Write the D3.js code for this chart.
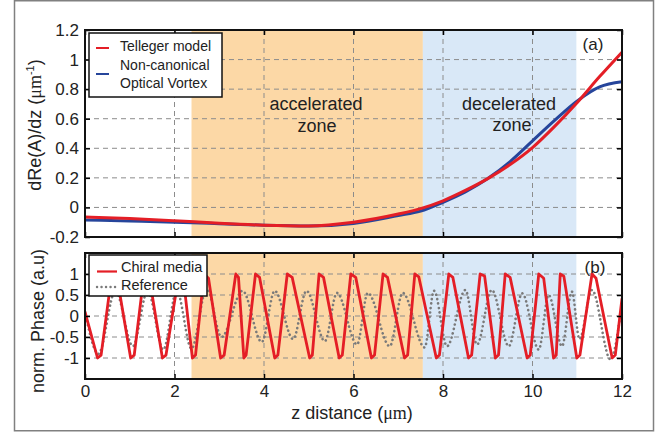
<!DOCTYPE html>
<html>
<head>
<meta charset="utf-8">
<script src="https://cdn.jsdelivr.net/npm/d3@7"></script>
<style>
  body { margin: 0; background: #fff; }
  text { font-family: "Liberation Sans", Arial, sans-serif; fill: #222; }
</style>
</head>
<body>
<div id="chart"></div>
<script>
// ---- data ----
const zTicks = [0, 2, 4, 6, 8, 10, 12];
const topTicks = [-0.2, 0, 0.2, 0.4, 0.6, 0.8, 1, 1.2];
const topTickLabels = ["-0.2", "0", "0.2", "0.4", "0.6", "0.8", "1", "1.2"];
const botTicks = [-1, -0.5, 0, 0.5, 1];
const botTickLabels = ["-1", "-0.5", "0", "0.5", "1"];

const accelZone = [2.38, 7.55];
const decelZone = [7.55, 10.98];

// panel (a)
const topZ      = [0, 1, 2, 3, 4, 5, 6, 7, 7.5, 8, 8.5, 9, 9.5, 10, 10.5, 11, 11.5, 12];
const telleger  = [-0.065, -0.075, -0.09, -0.107, -0.12, -0.125, -0.1, -0.045, -0.008, 0.045, 0.115, 0.195, 0.29, 0.405, 0.55, 0.71, 0.885, 1.05];
const vortex    = [-0.085, -0.092, -0.1, -0.11, -0.12, -0.125, -0.108, -0.055, -0.025, 0.035, 0.105, 0.195, 0.31, 0.45, 0.59, 0.72, 0.815, 0.85];

// panel (b)
const chiralZ = [0, 0.28, 0.36, 0.6, 0.72, 1.02, 1.1, 1.32, 1.44, 1.73, 1.81, 2.1, 2.2, 2.4, 2.47,
  2.66, 2.76, 3.03, 3.11, 3.37, 3.43, 3.55, 3.6, 3.81, 3.9, 4.24, 4.31, 4.52, 4.63, 5.02, 5.08,
  5.23, 5.33, 5.68, 5.75, 5.94, 6.05, 6.4, 6.47, 6.66, 6.76, 7.14, 7.21, 7.37, 7.46, 7.85, 7.92,
  8.13, 8.22, 8.57, 8.64, 8.83, 8.93, 9.17, 9.24, 9.39, 9.5, 9.88, 9.95, 10.14, 10.25, 10.47, 10.53,
  10.62, 10.7, 10.99, 11.06, 11.33, 11.42, 11.78, 11.85, 12];
const chiralV = [0.1, -1, -0.93, 1, 0.9, -1, -0.93, 1, 0.9, -1, -0.93, 1, 0.88, -1, -0.93,
  1, 0.9, -1, -0.93, 1, 0.92, -1, -0.93, 1, 0.92, -1, -0.93, 1, 0.92, -1, -0.93,
  1, 0.92, -1, -0.93, 1, 0.92, -1, -0.93, 1, 0.92, -1, -0.93, 1, 0.93, -1, -0.93,
  1, 0.92, -1, -0.93, 1, 0.95, -1, -0.93, 1, 0.92, -1, -0.93, 1, 0.9, -1, -0.93,
  1, 0.95, -1, -0.93, 1, 0.9, -1, -0.93, 0.42];

const refZ = [0, 0.3, 0.68, 1.07, 1.4, 1.75, 2.05, 2.38, 2.72, 3.05, 3.52, 3.95, 4.24, 4.65, 4.95,
  5.36, 5.63, 6.08, 6.32, 6.81, 7.1, 7.59, 7.8, 8.09, 8.5, 8.76, 9.09, 9.47, 9.77, 10.14, 10.36,
  10.66, 10.88, 11.05, 11.33, 11.74, 12];
const refV = [0.1, -0.9, 0.6, -0.72, 0.6, -0.8, 0.6, -0.78, 0.65, -0.5, 0.6, -0.62, 0.6, -0.55, 0.6,
  -0.6, 0.55, -0.68, 0.55, -0.72, 0.55, -0.75, 0.6, -0.72, 0.62, -0.68, 0.62, -0.72, 0.54, -0.8, 0.5,
  -0.72, 0.58, -0.55, 0.62, -1.03, 0.3];

// ---- layout ----
const W = 668, H = 434;
const red = "#e41e26", blue = "#26459b", grey = "#7a7a7a";
const orange = "#fcd8a6", lightBlue = "#d9e8f7";

const svg = d3.select("#chart").append("svg")
  .attr("width", W).attr("height", H);

// outer figure frame
svg.append("rect")
  .attr("x", 14.5).attr("y", 0.75).attr("width", 639).attr("height", 430)
  .attr("fill", "none").attr("stroke", "#808080").attr("stroke-width", 1.5);

const x = d3.scaleLinear().domain([0, 12]).range([85, 622]);
const yTop = d3.scaleLinear().domain([-0.2, 1.2]).range([237, 30]);
const yBot = d3.scaleLinear().domain([-1.5, 1.5]).range([379, 253]);

function panel(y, ticks, id) {
  const [y0, y1] = y.range();
  const g = svg.append("g");

  // shaded zones
  [[accelZone, orange], [decelZone, lightBlue]].forEach(([z, c]) => {
    g.append("rect")
      .attr("x", x(z[0])).attr("y", y1)
      .attr("width", x(z[1]) - x(z[0])).attr("height", y0 - y1)
      .attr("fill", c);
  });

  // dashed grid
  const grid = g.append("g").attr("stroke", "#8c8c8c").attr("stroke-width", 1)
    .attr("stroke-dasharray", "5,4");
  grid.selectAll(".gx").data(zTicks.slice(1, -1)).enter().append("line")
    .attr("x1", d => x(d)).attr("x2", d => x(d)).attr("y1", y1).attr("y2", y0);
  grid.selectAll(".gy").data(ticks.filter(t => y(t) > y1 + 1 && y(t) < y0 - 1)).enter().append("line")
    .attr("x1", x(0)).attr("x2", x(12)).attr("y1", d => y(d)).attr("y2", d => y(d));

  svg.append("clipPath").attr("id", id)
    .append("rect").attr("x", x(0)).attr("y", y1).attr("width", x(12) - x(0)).attr("height", y0 - y1);

  return g;
}

function axes(y, ticks, labels, showX) {
  const [y0, y1] = y.range();
  const ax = svg.append("g");
  ax.append("g").attr("transform", `translate(0,${y0})`)
    .call(d3.axisBottom(x).tickValues(zTicks).tickSize(-5).tickPadding(6)
      .tickFormat(showX ? d3.format("d") : ""));
  ax.append("g").attr("transform", `translate(0,${y1})`)
    .call(d3.axisTop(x).tickValues(zTicks).tickSize(-5).tickFormat(""));
  ax.append("g").attr("transform", `translate(${x(0)},0)`)
    .call(d3.axisLeft(y).tickValues(ticks).tickSize(-5).tickPadding(6)
      .tickFormat((d, i) => labels[i]));
  ax.append("g").attr("transform", `translate(${x(12)},0)`)
    .call(d3.axisRight(y).tickValues(ticks).tickSize(-5).tickFormat(""));
  ax.selectAll(".domain").remove();
  ax.selectAll(".tick line").attr("stroke", "#000").attr("stroke-width", 1.5);
  ax.selectAll(".tick text").style("font-size", "17px")
    .style("font-family", "'Liberation Sans', Arial, sans-serif").attr("fill", "#222");
  svg.append("rect")
    .attr("x", x(0)).attr("y", y1).attr("width", x(12) - x(0)).attr("height", y0 - y1)
    .attr("fill", "none").attr("stroke", "#111").attr("stroke-width", 2);
}

// ---- panel (a) ----
const gTop = panel(yTop, topTicks, "clipTop");
gTop.append("text").attr("x", 316).attr("y", 110).attr("text-anchor", "middle")
  .style("font-size", "18px").text("accelerated");
gTop.append("text").attr("x", 317).attr("y", 132).attr("text-anchor", "middle")
  .style("font-size", "18px").text("zone");
gTop.append("text").attr("x", 509).attr("y", 110).attr("text-anchor", "middle")
  .style("font-size", "18px").text("decelerated");
gTop.append("text").attr("x", 512).attr("y", 131).attr("text-anchor", "middle")
  .style("font-size", "18px").text("zone");

const lineTop = d3.line().curve(d3.curveMonotoneX);
const cTop = svg.append("g").attr("clip-path", "url(#clipTop)");
cTop.append("path")
  .attr("d", lineTop(topZ.map((z, i) => [x(z), yTop(vortex[i])])))
  .attr("fill", "none").attr("stroke", blue).attr("stroke-width", 3);
cTop.append("path")
  .attr("d", lineTop(topZ.map((z, i) => [x(z), yTop(telleger[i])])))
  .attr("fill", "none").attr("stroke", red).attr("stroke-width", 3);

axes(yTop, topTicks, topTickLabels, false);

// ---- panel (b) ----
panel(yBot, botTicks, "clipBot");
const cBot = svg.append("g").attr("clip-path", "url(#clipBot)");
cBot.append("path")
  .attr("d", d3.line().curve(d3.curveMonotoneX)(refZ.map((z, i) => [x(z), yBot(refV[i])])))
  .attr("fill", "none").attr("stroke", grey).attr("stroke-width", 2.6)
  .attr("stroke-linecap", "round").attr("stroke-dasharray", "0.1,4.4");
cBot.append("path")
  .attr("d", d3.line()(chiralZ.map((z, i) => [x(z), yBot(chiralV[i])])))
  .attr("fill", "none").attr("stroke", red).attr("stroke-width", 2.8)
  .attr("stroke-linejoin", "round");

axes(yBot, botTicks, botTickLabels, true);

// panel tags
svg.append("text").attr("x", 593).attr("y", 50).attr("text-anchor", "middle")
  .style("font-size", "17px").text("(a)");
svg.append("text").attr("x", 595).attr("y", 273).attr("text-anchor", "middle")
  .style("font-size", "17px").text("(b)");

// ---- legends ----
const legA = svg.append("g");
legA.append("rect").attr("x", 89).attr("y", 33).attr("width", 133).attr("height", 64)
  .attr("fill", "#fff").attr("stroke", "#111").attr("stroke-width", 1.5);
legA.append("line").attr("x1", 96).attr("x2", 109).attr("y1", 48).attr("y2", 48)
  .attr("stroke", red).attr("stroke-width", 2);
legA.append("line").attr("x1", 96).attr("x2", 109).attr("y1", 74).attr("y2", 74)
  .attr("stroke", blue).attr("stroke-width", 2);
legA.append("text").attr("x", 120).attr("y", 51).style("font-size", "14px").text("Telleger model");
legA.append("text").attr("x", 120).attr("y", 70).style("font-size", "14px").text("Non-canonical");
legA.append("text").attr("x", 120).attr("y", 88).style("font-size", "14px").text("Optical Vortex");

const legB = svg.append("g");
legB.append("rect").attr("x", 89).attr("y", 255).attr("width", 118).attr("height", 41)
  .attr("fill", "#fff").attr("stroke", "#111").attr("stroke-width", 1.5);
legB.append("line").attr("x1", 97).attr("x2", 117).attr("y1", 271.5).attr("y2", 271.5)
  .attr("stroke", red).attr("stroke-width", 2.2);
legB.append("line").attr("x1", 97).attr("x2", 117).attr("y1", 287).attr("y2", 287)
  .attr("stroke", grey).attr("stroke-width", 2.4).attr("stroke-linecap", "round")
  .attr("stroke-dasharray", "0.1,4.4");
legB.append("text").attr("x", 121).attr("y", 272).style("font-size", "14.5px").text("Chiral media");
legB.append("text").attr("x", 121).attr("y", 290).style("font-size", "14.5px").text("Reference");

// ---- axis labels ----
const xl = svg.append("text").attr("x", 352).attr("y", 419).attr("text-anchor", "middle")
  .style("font-size", "18px");
xl.append("tspan").text("z distance (");
xl.append("tspan").style("font-family", "'Liberation Serif', 'Times New Roman', serif").text("μm");
xl.append("tspan").text(")");

const yl1 = svg.append("text").attr("transform", "translate(41,125) rotate(-90)")
  .attr("text-anchor", "middle").style("font-size", "18px");
yl1.append("tspan").text("dRe(A)/dz (");
yl1.append("tspan").style("font-family", "'Liberation Serif', 'Times New Roman', serif").text("μm");
yl1.append("tspan").attr("dy", -7).style("font-size", "11px").text("-1");
yl1.append("tspan").attr("dy", 7).text(")");

svg.append("text").attr("transform", "translate(44,321) rotate(-90)")
  .attr("text-anchor", "middle").style("font-size", "18px").text("norm. Phase (a.u)");
</script>
</body>
</html>
